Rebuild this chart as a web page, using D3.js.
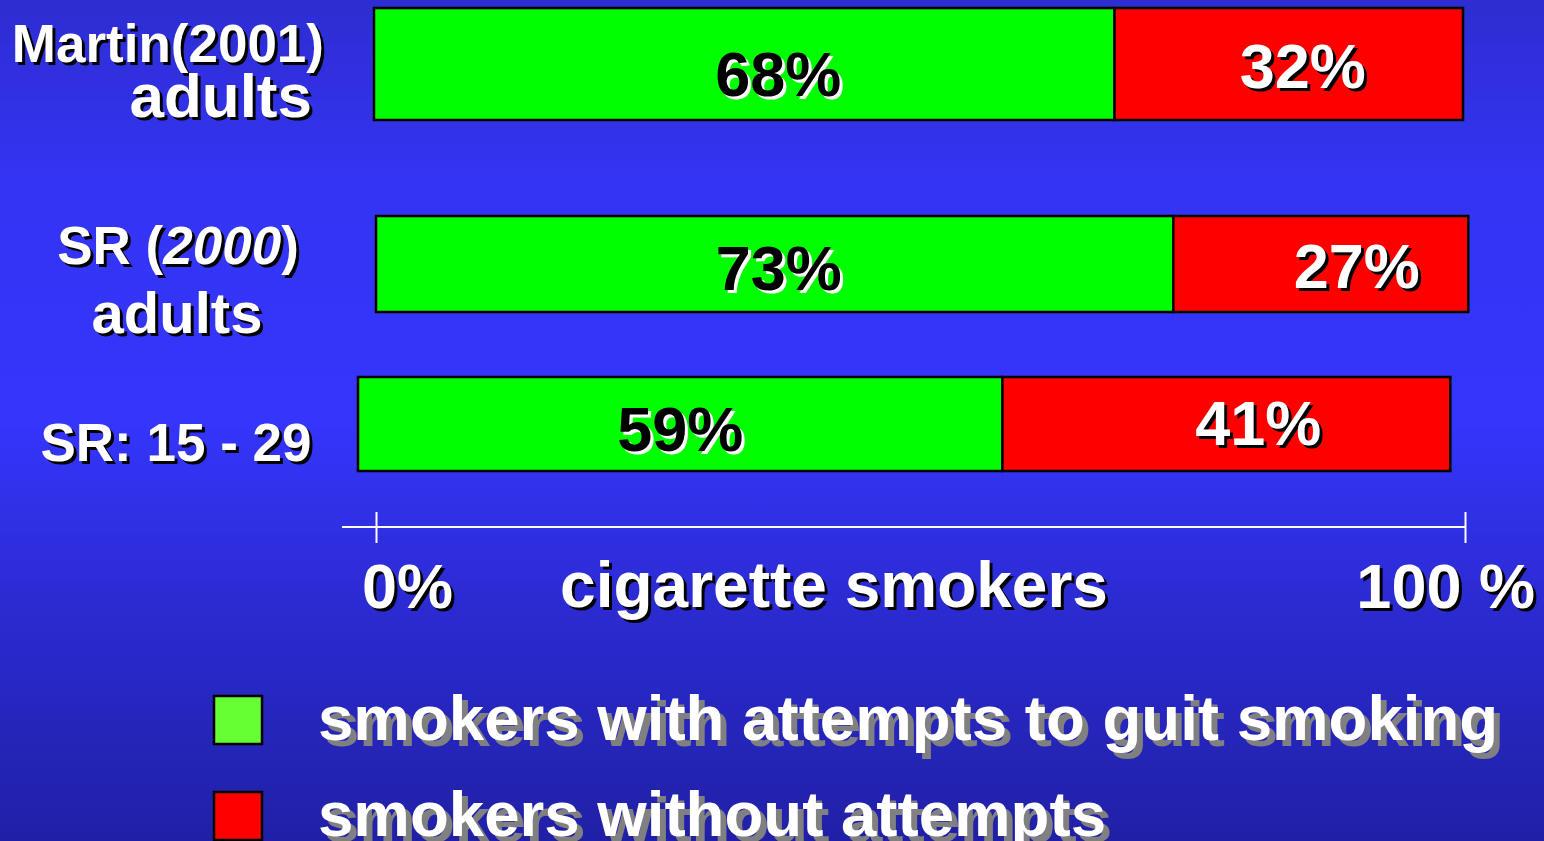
<!DOCTYPE html>
<html><head><meta charset="utf-8">
<script src="https://cdn.jsdelivr.net/npm/d3@7"></script>
<style>html,body{margin:0;padding:0;overflow:hidden;background:#2a2ad0}</style>
</head><body>
<svg id="c" width="1544" height="841"></svg>
<script>
// ---- data ----
const categories = ["Martin(2001) adults", "SR (2000) adults", "SR: 15 - 29"];
const withAttempts = [68, 73, 59];
const withoutAttempts = [32, 27, 41];
const seriesNames = ["smokers with attempts to guit smoking", "smokers without attempts"];
const tickValues = [0, 100];
const tickLabels = ["0%", "100 %"];
const axisTitle = "cigarette smokers";

// ---- layout ----
const W = 1544, H = 841;
const svg = d3.select("#c");
const defs = svg.append("defs");
const grad = defs.append("linearGradient").attr("id","bg").attr("x1",0).attr("y1",0).attr("x2",0).attr("y2",1);
[[0,"#2d2dd2"],[0.22,"#3434f4"],[0.5,"#3535fc"],[0.72,"#2b2bd2"],[1,"#2020a6"]].forEach(([o,c])=>grad.append("stop").attr("offset",o).attr("stop-color",c));
svg.append("rect").attr("width",W).attr("height",H).attr("fill","url(#bg)");

const FONT = "Liberation Sans, Arial, Helvetica, sans-serif";
const x = d3.scaleLinear().domain([0,100]).range([376,1465]);
const yCenter = d3.scaleOrdinal().domain(categories).range([64,264,424]);
const barH = d3.scaleOrdinal().domain(categories).range([112,96,94]);
const rowShift = d3.scaleOrdinal().domain(categories).range([-2,0,-18]);
const rowStretch = d3.scaleOrdinal().domain(categories).range([1.0,1.003,1.003]);
const color = d3.scaleOrdinal().domain(seriesNames).range(["#00ff00","#ff0000"]);
const legendColor = d3.scaleOrdinal().domain(seriesNames).range(["#66ff33","#ff0000"]);

function shadowText(g, txt, px, py, opts){
  const fs = opts.size, anchor = opts.anchor||"start";
  const mk = (dx,dy,fill)=>{
    const t = g.append("text").attr("x",px+dx).attr("y",py+dy)
      .attr("font-family",FONT).attr("font-weight","bold").attr("font-size",fs)
      .attr("text-anchor",anchor).attr("fill",fill);
    if (opts.spans) opts.spans.forEach(s=>t.append("tspan").attr("font-style",s.italic?"italic":"normal").text(s.t));
    else t.text(txt);
    return t;
  };
  mk(opts.sdx||3, opts.sdy||3, opts.shadow||"#000");
  mk(0,0,opts.fill||"#fff");
}

// bars
const rows = categories.map((c,i)=>({cat:c, segs:[
  {name:seriesNames[0], v0:0, v1:withAttempts[i]},
  {name:seriesNames[1], v0:withAttempts[i], v1:withAttempts[i]+withoutAttempts[i]}]}));
const gBars = svg.append("g");
const labelDx = [[34,14],[4,36],[0,32]];
const labelDy = [[32,24],[26,24],[27,21]];
rows.forEach((r,i)=>{
  const s = rowShift(r.cat), h = barH(r.cat), y0 = yCenter(r.cat)-h/2, k = rowStretch(r.cat);
  const px = v => x(0) + (x(v)-x(0))*k + s;
  r.segs.forEach(sg=>{
    gBars.append("rect").attr("x",px(sg.v0)).attr("y",y0)
      .attr("width",px(sg.v1)-px(sg.v0)).attr("height",h)
      .attr("fill",color(sg.name)).attr("stroke","#000").attr("stroke-width",2.5);
  });
  r.segs.forEach((sg,j)=>{
    const cx = (px(sg.v0)+px(sg.v1))/2 + labelDx[i][j];
    const val = j===0?withAttempts[i]:withoutAttempts[i];
    const base = yCenter(r.cat) + labelDy[i][j];
    if (j===0) shadowText(gBars, val+"%", cx, base, {size:63, anchor:"middle", fill:"#000", shadow:"#fff", sdx:3, sdy:3});
    else shadowText(gBars, val+"%", cx, base, {size:63, anchor:"middle", fill:"#fff", shadow:"#000", sdx:3, sdy:3});
  });
});

// category labels
const gLab = svg.append("g");
shadowText(gLab, "Martin(2001)", 324, 62, {size:53, anchor:"end"});
shadowText(gLab, "adults", 312, 117, {size:62, anchor:"end"});
shadowText(gLab, null, 178, 264, {size:53, anchor:"middle", spans:[{t:"SR ("},{t:"2000",italic:true},{t:")"}]});
shadowText(gLab, "adults", 177, 333, {size:58, anchor:"middle"});
shadowText(gLab, "SR: 15 - 29", 176, 461, {size:53, anchor:"middle"});

// axis
const axisY = 527;
const gAx = svg.append("g").attr("transform",`translate(0,${axisY})`)
  .call(d3.axisBottom(x).tickValues(tickValues).tickSize(16).tickFormat(""));
gAx.select(".domain").remove();
gAx.selectAll(".tick line").attr("stroke","#fff").attr("stroke-width",2).attr("y1",-15).attr("y2",16);
svg.append("line").attr("x1",342).attr("x2",x(100)).attr("y1",axisY).attr("y2",axisY).attr("stroke","#fff").attr("stroke-width",2);
shadowText(svg, tickLabels[0], 362, 608, {size:63, anchor:"start"});
shadowText(svg, tickLabels[1], 1535, 608, {size:63, anchor:"end"});
shadowText(svg, axisTitle, 834, 607, {size:64, anchor:"middle"});

// legend
const gLeg = svg.append("g");
seriesNames.forEach((n,i)=>{
  const ly = 720 + i*96;
  gLeg.append("rect").attr("x",214).attr("y",ly-24).attr("width",48).attr("height",48)
    .attr("fill",legendColor(n)).attr("stroke","#000").attr("stroke-width",2.5);
  shadowText(gLeg, n, 318, ly+20, {size:63.6, anchor:"start", shadow:"#808080", sdx:6, sdy:6});
});
</script>
</body></html>
